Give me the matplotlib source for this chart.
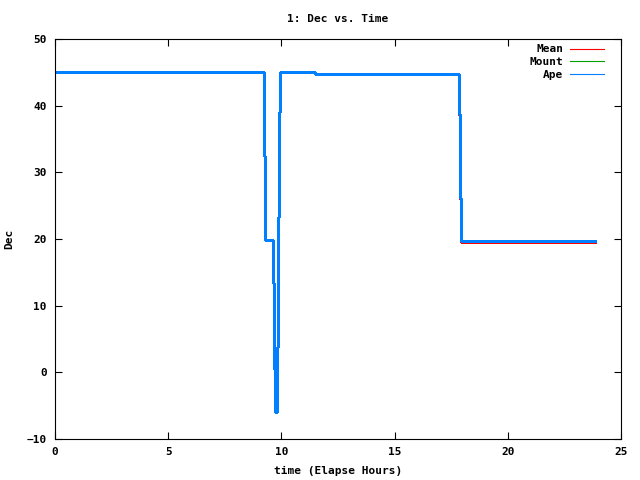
import matplotlib
matplotlib.use("Agg")
import matplotlib.pyplot as plt

# step data (hours, degrees)
ape_t = [0, 9.245, 9.27, 9.64, 9.69, 9.72, 9.82, 9.87, 9.91, 9.95, 11.5, 17.86, 17.9, 17.95, 23.85]
ape_dec = [45.0, 32.45, 19.8, 13.45, 0.5, -6.0, 3.75, 23.3, 39.0, 45.0, 44.8, 38.75, 26.2, 19.7, 19.7]

mount_t = [0, 9.245, 9.27, 9.64, 9.69, 9.72, 9.82, 9.87, 9.91, 9.95, 11.5, 17.86, 17.9, 17.95, 23.85]
mount_dec = [45.08, 32.45, 19.8, 13.45, 0.5, -6.0, 3.75, 23.3, 39.0, 45.0, 44.8, 38.75, 26.2, 19.7, 19.7]

mean_t = [0, 9.245, 9.27, 9.64, 9.69, 9.72, 9.82, 9.87, 9.91, 9.95, 11.5, 17.85, 17.9, 17.94, 23.85]
mean_dec = [45.0, 32.45, 19.8, 13.45, 0.5, -6.0, 3.75, 23.3, 39.0, 45.0, 44.72, 38.6, 26.0, 19.6, 19.6]

xticks = [0, 5, 10, 15, 20, 25]
yticks = [-10, 0, 10, 20, 30, 40, 50]

plt.rcParams['font.family'] = ['DejaVu Sans Mono']
plt.rcParams['font.weight'] = 'bold'
plt.rcParams['font.size'] = 8

fig = plt.figure(figsize=(6.4, 4.8), dpi=100)
ax = fig.add_axes([55 / 640, 1 - 439 / 480, (621 - 55) / 640, (439 - 39) / 480])

ax.plot(mean_t, mean_dec, drawstyle='steps-post', color='#ff0000', lw=0.8, label='Mean', antialiased=False)
ax.plot(mount_t, mount_dec, drawstyle='steps-post', color='#00a000', lw=0.8, label='Mount', antialiased=False)
ax.plot(ape_t, ape_dec, drawstyle='steps-post', color='#0080ff', lw=0.8, label='Ape', antialiased=False)

ax.set_xlim(0, 25)
ax.set_ylim(-10, 50)
ax.set_xticks(xticks)
ax.set_yticks(yticks)
ax.tick_params(direction='in', top=True, right=True, length=5, width=0.8, pad=6)
for s in ax.spines.values():
    s.set_linewidth(0.8)

ax.set_title('1: Dec vs. Time', fontsize=8, fontweight='bold', pad=12)
ax.set_xlabel('time (Elapse Hours)', fontsize=8, fontweight='bold', labelpad=6)
ax.set_ylabel('Dec', fontsize=8, fontweight='bold')
ax.yaxis.set_label_coords(-41 / 566, 0.5)

leg = ax.legend(loc='upper right', frameon=False, markerfirst=False, handlelength=3.0,
                handletextpad=0.6, labelspacing=0.25, borderaxespad=0.0,
                bbox_to_anchor=(1 - 13 / 566, 1 - 1 / 400))
for t in leg.get_texts():
    t.set_ha('right')

fig.savefig('out.png', dpi=100)
